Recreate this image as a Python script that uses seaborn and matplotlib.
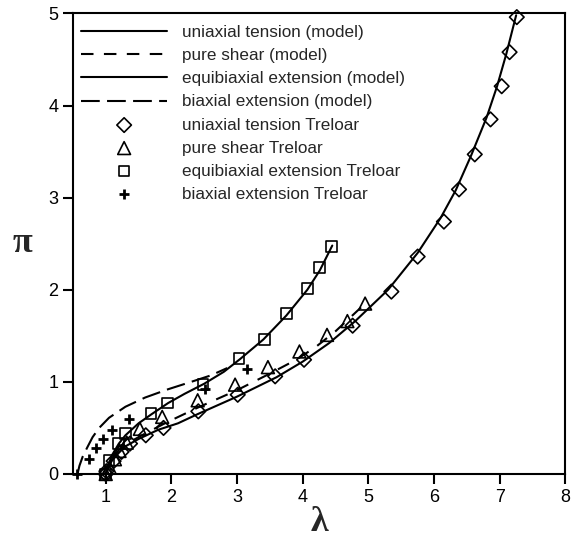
import matplotlib
matplotlib.use("Agg")
import matplotlib.pyplot as plt
import seaborn as sns

# model curves
uni_model_lam = [1.0, 1.05, 1.1, 1.2, 1.3, 1.5, 1.8, 2.1, 2.4, 3.0, 3.6, 4.0, 4.4, 4.8,
                 5.3, 5.75, 6.1, 6.33, 6.56, 6.8, 6.96, 7.1, 7.25]
uni_model_pi = [0.0, 0.09, 0.15, 0.23, 0.30, 0.38, 0.48, 0.55, 0.65, 0.84, 1.05, 1.22, 1.42, 1.66,
                2.0, 2.4, 2.78, 3.08, 3.45, 3.87, 4.21, 4.56, 4.98]

ps_model_lam = [1.0, 1.05, 1.1, 1.2, 1.35, 1.55, 1.9, 2.4, 3.0, 3.5, 3.9, 4.2, 4.5, 4.95]
ps_model_pi = [0.0, 0.10, 0.17, 0.26, 0.34, 0.42, 0.55, 0.72, 0.91, 1.09, 1.24, 1.38, 1.55, 1.85]

eb_model_lam = [1.0, 1.05, 1.1, 1.2, 1.3, 1.5, 1.7, 1.95, 2.2, 2.5, 2.8, 3.05, 3.4, 3.75,
                4.07, 4.26, 4.45]
eb_model_pi = [0.0, 0.12, 0.21, 0.33, 0.42, 0.55, 0.65, 0.77, 0.87, 0.98, 1.11, 1.25, 1.46, 1.72,
               2.0, 2.21, 2.48]

bi_model_lam = [0.57, 0.6, 0.65, 0.72, 0.8, 0.9, 1.05, 1.3, 1.6, 1.95, 2.3, 2.6, 2.85]
bi_model_pi = [0.0, 0.09, 0.19, 0.29, 0.40, 0.50, 0.61, 0.73, 0.83, 0.92, 1.0, 1.07, 1.15]

# Treloar data
uni_lam = [1.0, 1.01, 1.12, 1.24, 1.37, 1.61, 1.88, 2.41, 3.01, 3.58, 4.02, 4.76, 5.35, 5.75,
           6.15, 6.38, 6.62, 6.86, 7.03, 7.15, 7.26]
uni_pi = [0.0, 0.03, 0.14, 0.24, 0.33, 0.42, 0.50, 0.68, 0.86, 1.06, 1.24, 1.61, 1.98, 2.36,
          2.74, 3.09, 3.47, 3.85, 4.21, 4.58, 4.96]

ps_lam = [1.0, 1.06, 1.14, 1.21, 1.32, 1.52, 1.86, 2.40, 2.97, 3.47, 3.95, 4.37, 4.68, 4.95]
ps_pi = [0.0, 0.07, 0.16, 0.25, 0.34, 0.49, 0.62, 0.80, 0.97, 1.16, 1.33, 1.51, 1.66, 1.85]

eb_lam = [1.0, 1.05, 1.20, 1.30, 1.69, 1.94, 2.48, 3.03, 3.42, 3.75, 4.07, 4.26, 4.44]
eb_pi = [0.0, 0.15, 0.33, 0.44, 0.66, 0.77, 0.97, 1.25, 1.46, 1.74, 2.01, 2.24, 2.47]

bi_lam = [0.57, 0.74, 0.85, 0.96, 1.10, 1.35, 2.51, 3.15]
bi_pi = [0.0, 0.16, 0.28, 0.38, 0.48, 0.60, 0.92, 1.14]

sns.set_theme(style="ticks")
plt.rcParams['font.family'] = ['Liberation Sans', 'DejaVu Sans']

fig = plt.figure(figsize=(5.74, 5.38), dpi=100)
ax = fig.add_axes([0.127, 0.119, 0.858, 0.856])

lw = 1.5
sns.lineplot(x=uni_model_lam, y=uni_model_pi, color='black', lw=lw, sort=False,
             estimator=None, label='uniaxial tension (model)', ax=ax)
sns.lineplot(x=ps_model_lam, y=ps_model_pi, color='black', lw=lw, sort=False,
             estimator=None, label='pure shear (model)', ax=ax)
sns.lineplot(x=eb_model_lam, y=eb_model_pi, color='black', lw=lw, sort=False,
             estimator=None, label='equibiaxial extension (model)', ax=ax)
sns.lineplot(x=bi_model_lam, y=bi_model_pi, color='black', lw=lw, sort=False,
             estimator=None, label='biaxial extension (model)', ax=ax)
ax.lines[1].set_dashes((6, 5))
ax.lines[3].set_dashes((9, 3.5))

sns.scatterplot(x=uni_lam, y=uni_pi, marker='D', s=55, facecolor='none', edgecolor='black',
                linewidth=1.2, label='uniaxial tension Treloar', clip_on=False, zorder=3, ax=ax)
sns.scatterplot(x=ps_lam, y=ps_pi, marker='^', s=85, facecolor='none', edgecolor='black',
                linewidth=1.2, label='pure shear Treloar', clip_on=False, zorder=3, ax=ax)
sns.scatterplot(x=eb_lam, y=eb_pi, marker='s', s=60, facecolor='none', edgecolor='black',
                linewidth=1.2, label='equibiaxial extension Treloar', clip_on=False, zorder=3, ax=ax)
sns.scatterplot(x=bi_lam, y=bi_pi, marker='+', s=50, color='black',
                linewidth=2, label='biaxial extension Treloar', clip_on=False, zorder=3, ax=ax)

ax.set_xlim(0.5, 8)
ax.set_ylim(0, 5)
ax.set_xticks([1, 2, 3, 4, 5, 6, 7, 8])
ax.set_yticks([0, 1, 2, 3, 4, 5])
for s in ax.spines.values():
    s.set_visible(True)
    s.set_linewidth(1.5)
    s.set_color('black')
ax.tick_params(direction='out', length=7, width=1.5, labelsize=13, colors='black')
ax.set_xlabel('λ', family='Liberation Serif', fontsize=26, fontweight='bold', labelpad=0)
ax.set_ylabel('π', family='Liberation Serif', fontsize=26, fontweight='bold', rotation=0,
              va='center')
ax.yaxis.set_label_coords(-0.102, 0.5)

ax.legend(loc='upper left', bbox_to_anchor=(-0.007, 1.0), frameon=False, fontsize=12.3,
          handlelength=5.0, handletextpad=0.9, labelspacing=0.47, borderaxespad=0.3,
          scatterpoints=1)

fig.savefig('out.png', dpi=100)
